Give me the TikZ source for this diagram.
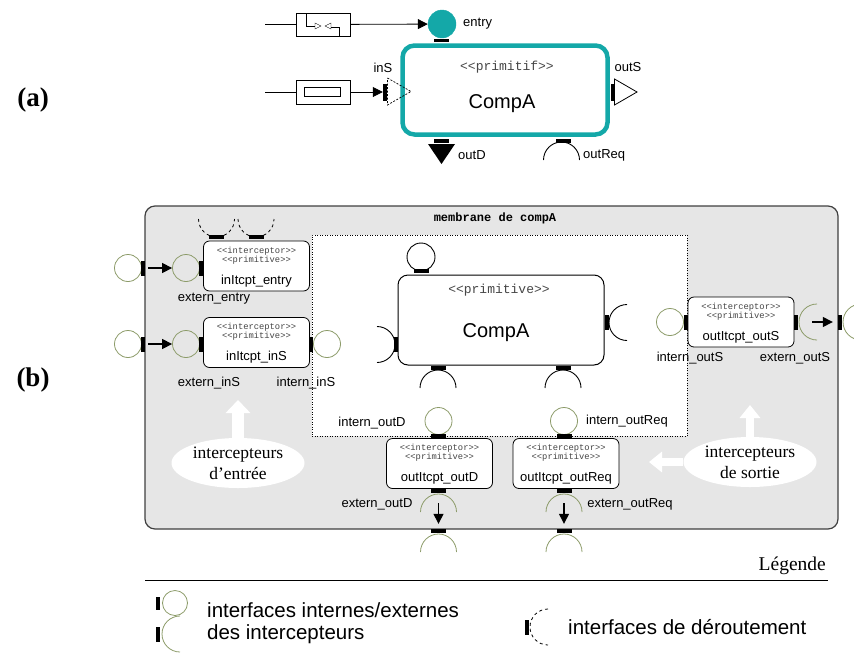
\documentclass[tikz,border=0pt]{standalone}
\usepackage{fontspec}
\setmainfont{Liberation Serif}
\setsansfont{Liberation Sans}
\setmonofont{Liberation Mono}
\usetikzlibrary{positioning,arrows.meta,shapes.geometric}
\definecolor{tealc}{RGB}{20,168,168}
\definecolor{olivec}{RGB}{140,155,105}
\definecolor{membgray}{RGB}{230,230,230}
\definecolor{stereogray}{RGB}{70,70,70}

\begin{document}
\begin{tikzpicture}[x=1pt,y=1pt,
    lbl/.style={font=\sffamily\fontsize{13}{15}\selectfont,inner sep=0pt},
    stereo/.style={font=\ttfamily\fontsize{13}{15}\selectfont,text=stereogray,inner sep=0pt},
    tinystereo/.style={font=\ttfamily\fontsize{8.8}{10}\selectfont,text=stereogray,inner sep=0pt},
    itcpt/.style={rectangle,rounded corners=6pt,draw,line width=0.8pt,fill=white,minimum width=106pt,minimum height=50pt},
    iface/.style={circle,draw=olivec,line width=0.8pt,minimum size=27pt,inner sep=0pt},
    bface/.style={circle,draw,line width=0.9pt,minimum size=28pt,inner sep=0pt},
    vbar/.style={rectangle,fill=black,minimum width=4pt,minimum height=15pt,inner sep=0pt},
    hbar/.style={rectangle,fill=black,minimum width=15pt,minimum height=4pt,inner sep=0pt},
    olivearc/.style={draw=olivec,line width=0.8pt},
    dasharc/.style={draw,line width=0.8pt,dash pattern=on 3pt off 3pt},
    arr/.style={-{Triangle[length=10pt,width=10pt]},line width=1.3pt},
    warr/.style={white,line width=12pt,-{Triangle[width=24pt,length=13pt]}},
    warrs/.style={white,line width=8pt,-{Triangle[width=20pt,length=13pt]}},
    ell/.style={ellipse,fill=white,minimum width=133pt,minimum height=50pt,inner sep=0pt,align=center,font=\rmfamily\fontsize{17.5}{21}\selectfont},
    legtxt/.style={font=\sffamily\fontsize{20.5}{23}\selectfont,inner sep=0pt}]
\useasboundingbox (0,0) rectangle (854,-659);

\node[font=\rmfamily\bfseries\fontsize{27}{30}\selectfont] (labA) at (33,-100) {(a)};
\node[font=\rmfamily\bfseries\fontsize{27}{30}\selectfont] (labB) at (33,-380) {(b)};

% (a) primitive component
\node[rectangle,rounded corners=12pt,draw=tealc,line width=4.5pt,fill=white,minimum width=205pt,minimum height=89pt] (compA) at (505,-90) {};
\node[stereo] at (507,-67) {<{}<primitif>{}>};
\node[font=\sffamily\fontsize{20}{24}\selectfont] at (502,-104) {CompA};

% entry
\node[circle,fill=tealc,draw=tealc,minimum size=28pt,inner sep=0pt] (entryA) at (442,-24) {};
\node[hbar,minimum height=3.5pt] (entryBarA) at (441.5,-40.5) {};
\node[lbl,anchor=west] at (463,-24) {entry};
\node[rectangle,draw,minimum width=54pt,minimum height=23pt,inner sep=0pt] (filterA) at (323,-24.5) {};
\draw (306,-13) -- (306,-26) -- (315,-26);
\draw (315,-23) -- (321,-26) -- (315,-29) -- cycle;
\draw (331,-23) -- (325,-26) -- (331,-29) -- cycle;
\draw (331,-27) -- (339,-27) -- (339,-36);
\coordinate (srcEntry) at (265,-24.5);
\draw (srcEntry) -- (filterA);
\draw[arr,line width=0.8pt] (filterA) -- (entryA);

% inS
\node[rectangle,draw,minimum width=54pt,minimum height=24pt,inner sep=0pt] (bufA) at (323,-92) {};
\node[rectangle,draw,minimum width=36pt,minimum height=9pt,inner sep=0pt] (bufInA) at (322,-92) {};
\node[vbar,minimum height=17pt] (inSbarA) at (385,-92) {};
\coordinate (srcInS) at (265,-92);
\draw (srcInS) -- (bufA);
\draw[arr,line width=0.8pt] (bufA) -- (inSbarA);
\draw[line width=0.7pt,dash pattern=on 2pt off 1.5pt] (387.5,-78) -- (411,-91.5) -- (387.5,-105) -- cycle;
\node[lbl] at (383,-68) {inS};

% outS, outD, outReq
\node[vbar,minimum height=17pt] (outSbarA) at (612.5,-92) {};
\draw[fill=white,line width=0.8pt] (614.5,-79) -- (637,-92) -- (614.5,-105) -- cycle;
\node[lbl] at (628,-67) {outS};
\node[hbar] (outDbarA) at (441.5,-141) {};
\fill (428,-144) -- (455,-144) -- (441.5,-164) -- cycle;
\node[lbl,anchor=west] at (458,-155) {outD};
\node[hbar] (outReqBarA) at (563.5,-141) {};
\draw[line width=0.9pt] (543.5,-160) arc[start angle=180,end angle=0,radius=18];
\node[lbl,anchor=west] at (583,-155) {outReq};

% (b) membrane
\node[rectangle,rounded corners=10pt,draw=black!75,line width=1.2pt,fill=membgray,minimum width=693pt,minimum height=323pt] (memb) at (491.5,-367.5) {};
\node[font=\ttfamily\bfseries\fontsize{12}{14}\selectfont] at (495,-218) {membrane de compA};
\node[rectangle,draw,line width=0.8pt,dash pattern=on 1pt off 1.5pt,fill=white,minimum width=375pt,minimum height=201pt] (inner) at (499.5,-335.5) {};

% inner component
\node[rectangle,rounded corners=10pt,draw,line width=1pt,fill=white,minimum width=206pt,minimum height=90pt] (compB) at (501,-320) {};
\node[stereo] at (499,-290) {<{}<primitive>{}>};
\node[font=\sffamily\fontsize{20}{24}\selectfont] at (496,-333) {CompA};
\node[bface] (topB) at (421,-257) {};
\node[hbar] (topBarB) at (421,-271) {};
\node[vbar] (leftBarB) at (396,-344.5) {};
\draw[line width=0.9pt] (377,-326.5) arc[start angle=90,end angle=-90,radius=18];
\node[vbar] (rightBarB) at (607,-322.5) {};
\draw[line width=0.9pt] (627,-304.5) arc[start angle=90,end angle=270,radius=18];
\node[hbar] (outDBarB) at (438,-368) {};
\node[hbar] (outReqBarB) at (563,-368) {};
\foreach \x in {438,563} {
    \draw[line width=0.9pt] (\x-18,-388) arc[start angle=180,end angle=0,radius=18];
}

% interceptors
\foreach \n/\x/\y/\t in {inEntry/256.5/-266/inItcpt\_entry, inInS/256.5/-342.5/inItcpt\_inS,
    outOutS/741/-322/outItcpt\_outS, outOutD/439.5/-463.5/outItcpt\_outD, outOutReq/566/-463.5/outItcpt\_outReq} {
    \node[itcpt] (\n) at (\x,\y) {};
    \node[tinystereo] at (\x,\y+15) {<{}<interceptor>{}>};
    \node[tinystereo] at (\x,\y+6) {<{}<primitive>{}>};
    \node[font=\sffamily\fontsize{13}{15}\selectfont,inner sep=0pt] at (\x,\y-15) {\t};
}

% entry row
\node[iface] (xEntry) at (128,-268) {};
\node[vbar] (xEntryBar) at (143,-268) {};
\node[iface] (iEntry) at (186,-268) {};
\node[vbar] (iEntryBar) at (201,-268) {};
\draw[arr,shorten <=3pt] (xEntryBar) -- (iEntry);
\node[hbar] (divBar1) at (216.5,-237) {};
\node[hbar] (divBar2) at (256,-237) {};
\draw[dasharc] (198.5,-219) arc[start angle=180,end angle=360,radius=18];
\draw[dasharc] (238,-219) arc[start angle=180,end angle=360,radius=18];
\node[lbl] at (214,-299) {extern\_entry};

% inS row
\node[iface] (xInS) at (128,-344) {};
\node[vbar] (xInSBar) at (143,-344) {};
\node[iface] (iInS) at (186,-344) {};
\node[vbar] (iInSBar) at (201,-344) {};
\draw[arr,shorten <=3pt] (xInSBar) -- (iInS);
\node[vbar] (nInSBar) at (311,-344) {};
\node[iface] (nInS) at (327,-344) {};
\node[lbl] at (209,-383) {extern\_inS};
\node[lbl] at (306,-383) {intern\_inS};

% outS row
\node[iface] (nOutS) at (670,-322) {};
\node[vbar] (nOutSBar) at (686,-322) {};
\node[vbar] (iOutSBar) at (796,-322) {};
\draw[olivearc] (817,-304) arc[start angle=90,end angle=270,radius=18];
\node[vbar] (xOutSBar) at (840,-322) {};
\draw[olivearc] (861,-304) arc[start angle=90,end angle=270,radius=18];
\draw[arr,shorten <=14pt,shorten >=5pt] (iOutSBar) -- (xOutSBar);
\node[lbl] at (690,-358) {intern\_outS};
\node[lbl] at (795,-358) {extern\_outS};

% outD and outReq columns
\foreach \n/\x in {OutD/438.5, OutReq/564} {
    \node[iface] (n\n) at (\x,-421) {};
    \node[hbar] (n\n Bar) at (\x,-436) {};
    \node[hbar] (i\n Bar) at (\x,-491) {};
    \draw[olivearc] (\x-18,-512) arc[start angle=180,end angle=0,radius=18];
    \node[hbar] (x\n Bar) at (\x,-531) {};
    \draw[olivearc] (\x-18,-552) arc[start angle=180,end angle=0,radius=18];
    \draw[arr,shorten <=10pt,shorten >=5pt] (i\n Bar) -- (x\n Bar);
}
\node[lbl] at (372,-423) {intern\_outD};
\node[lbl] at (627,-421) {intern\_outReq};
\node[lbl] at (377,-504) {extern\_outD};
\node[lbl] at (630,-504) {extern\_outReq};

% notes
\node[ell] (entEll) at (238,-463) {intercepteurs\\d’entrée};
\coordinate (entTip) at (238,-400);
\draw[warr] (entEll.north) -- (entTip);
\node[ell] (sorEll) at (750,-462) {intercepteurs\\de sortie};
\coordinate (sorTipUp) at (750,-405);
\coordinate (sorTipLeft) at (649,-462);
\draw[warrs] (sorEll.north) -- (sorTipUp);
\draw[warrs] (sorEll.west) -- (sorTipLeft);

% legend
\coordinate (legL) at (145,-580);
\coordinate (legR) at (828,-580);
\draw[line width=0.8pt] (legL) -- (legR);
\node[font=\rmfamily\fontsize{19.5}{22}\selectfont,anchor=east,inner sep=0pt] (legTitle) at (826,-566) {Légende};
\node[vbar,minimum height=13pt] (legBar1) at (158,-603) {};
\node[iface,minimum size=25pt] (legCirc) at (175,-603) {};
\node[vbar] (legBar2) at (158,-634) {};
\draw[olivearc] (180,-616) arc[start angle=90,end angle=270,radius=18];
\node[legtxt,anchor=west] at (207,-610) {interfaces internes/externes};
\node[legtxt,anchor=west] at (207,-634) {des intercepteurs};
\node[vbar] (legBar3) at (527,-627) {};
\draw[dasharc] (548,-609) arc[start angle=90,end angle=270,radius=18];
\node[legtxt,anchor=west] at (568,-627) {interfaces de déroutement};
\end{tikzpicture}
\end{document}
